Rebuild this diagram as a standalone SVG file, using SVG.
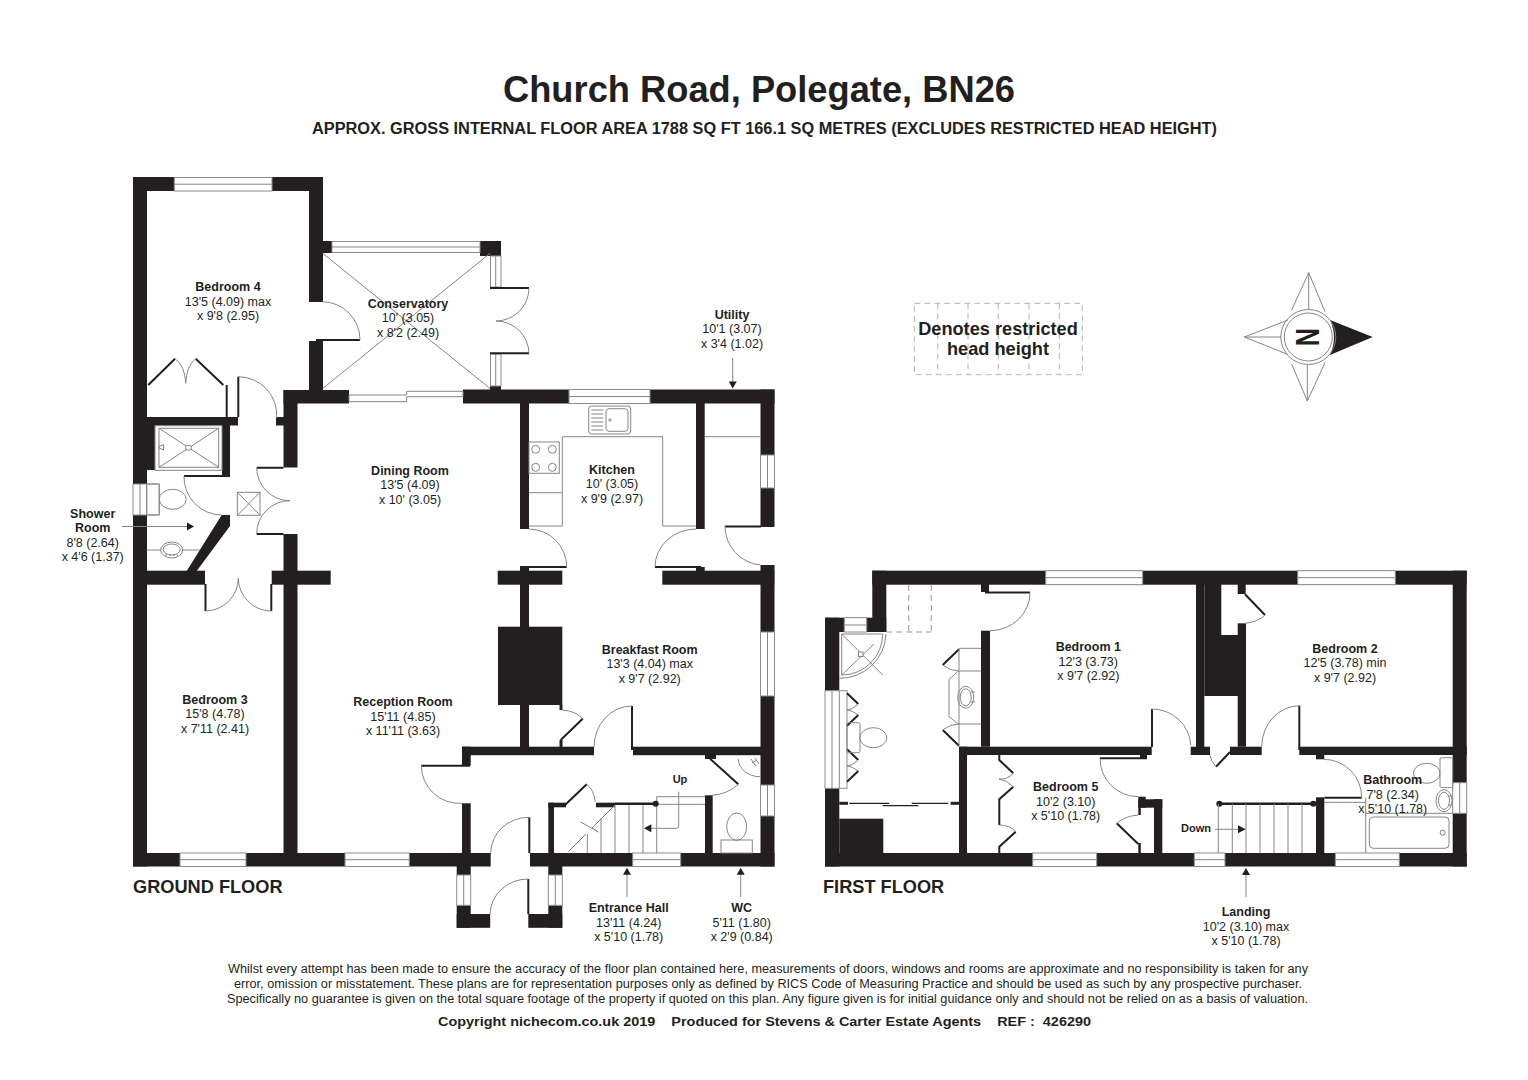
<svg xmlns="http://www.w3.org/2000/svg" width="1528" height="1080" viewBox="0 0 1528 1080">
<style>
text{font-family:"Liberation Sans",Arial,sans-serif;fill:#231f20;text-anchor:middle;font-size:12.5px}
.b{font-weight:bold}
.w{fill:#231f20;stroke:none}
.win{fill:#fff;stroke:#8c8c8c;stroke-width:1}
.t{fill:none;stroke:#858585;stroke-width:1}
.f{fill:#fff;stroke:#858585;stroke-width:1}
.k{fill:none;stroke:#231f20;stroke-width:2}
.d{fill:none;stroke:#b5b5b5;stroke-width:1;stroke-dasharray:6 4}
.a{fill:#231f20;stroke:none}
</style>
<rect width="1528" height="1080" fill="#fff"/>
<g id="heading">
<text x="759" y="102" class="b" style="font-size:36px" textLength="512" lengthAdjust="spacingAndGlyphs">Church Road, Polegate, BN26</text>
<text x="764.5" y="134" class="b" style="font-size:16px" textLength="905" lengthAdjust="spacingAndGlyphs">APPROX. GROSS INTERNAL FLOOR AREA 1788 SQ FT 166.1 SQ METRES (EXCLUDES RESTRICTED HEAD HEIGHT)</text>
</g>
<g id="ground-floor">
<g id="ground-walls">
<rect class="w" x="133" y="177" width="190" height="14"/>
<rect class="w" x="133" y="177" width="14" height="689.5"/>
<rect class="w" x="309" y="177" width="14" height="125"/>
<rect class="w" x="309" y="341" width="14" height="50"/>
<rect class="w" x="147" y="417" width="91" height="8.5"/>
<rect class="w" x="276" y="417" width="8" height="8.5"/>
<rect class="w" x="283.5" y="390" width="14" height="77.5"/>
<rect class="w" x="283.5" y="534" width="14" height="332"/>
<rect class="w" x="283.5" y="390" width="65.5" height="13.5"/>
<rect class="w" x="463" y="389.5" width="311.5" height="14"/>
<rect class="w" x="760.5" y="389.5" width="14" height="137.5"/>
<rect class="w" x="760.5" y="565" width="14" height="301.5"/>
<rect class="w" x="322" y="241" width="10" height="12"/>
<rect class="w" x="480" y="241" width="21" height="15"/>
<rect class="w" x="490" y="386" width="11" height="5"/>
<rect class="w" x="147" y="425" width="8" height="45"/>
<rect class="w" x="222" y="425" width="8" height="51.5"/>
<polygon class="w" points="221.7,515 230,515 230,526 196.7,571 186.7,571"/>
<rect class="w" x="147" y="570.7" width="58" height="14"/>
<rect class="w" x="271.7" y="570.7" width="59" height="14"/>
<rect class="w" x="497.7" y="570.7" width="64.6" height="14"/>
<rect class="w" x="662.3" y="570.7" width="112" height="14"/>
<rect class="w" x="696" y="567" width="8.7" height="4"/>
<rect class="w" x="520" y="403" width="9" height="126"/>
<rect class="w" x="696" y="403" width="8.7" height="126"/>
<rect class="w" x="520" y="566" width="9" height="181"/>
<rect class="w" x="498" y="626.7" width="64.3" height="78.3"/>
<rect class="w" x="559.5" y="705" width="3" height="5"/>
<rect class="w" x="559.5" y="740" width="3" height="7"/>
<rect class="w" x="462" y="746.7" width="132" height="8.5"/>
<rect class="w" x="633" y="746.7" width="128" height="8.5"/>
<rect class="w" x="462" y="746.7" width="8.7" height="19"/>
<rect class="w" x="462" y="803.3" width="8.7" height="63"/>
<rect class="w" x="133" y="853" width="357.7" height="13.5"/>
<rect class="w" x="530" y="853" width="244.5" height="13.5"/>
<rect class="w" x="456.7" y="866" width="14" height="9"/>
<rect class="w" x="456.7" y="905.3" width="14" height="22.5"/>
<rect class="w" x="456.7" y="914" width="33.5" height="13.8"/>
<rect class="w" x="548.3" y="866" width="14" height="9"/>
<rect class="w" x="548.3" y="905.3" width="14" height="22.5"/>
<rect class="w" x="528.3" y="914" width="34" height="13.8"/>
<rect class="w" x="548.3" y="802.7" width="5.7" height="50.5"/>
<rect class="w" x="548.3" y="802.7" width="17.7" height="4.6"/>
<rect class="w" x="596" y="802.7" width="19" height="4.6"/>
<rect class="w" x="705" y="795.3" width="7.7" height="58"/>
<rect class="w" x="705" y="755" width="11" height="4"/>
</g>
<g id="ground-windows">
<rect class="win" x="174.3" y="177.5" width="97.7" height="13.5"/><path class="t" d="M174.3 184.2H272"/>
<rect class="win" x="332" y="241.5" width="148" height="11"/><path class="t" d="M332 247H480"/>
<rect class="win" x="490.5" y="256" width="10.5" height="31"/><path class="t" d="M495.7 256V287"/>
<rect class="win" x="490.5" y="354" width="10.5" height="32"/><path class="t" d="M495.7 354V386"/>
<path class="f" d="M349 395H406.7V391.3H463V396.7H406.7V401.7H349Z"/>
<rect class="win" x="569" y="389.5" width="81" height="14"/><path class="t" d="M569 396.5H650"/>
<rect class="win" x="760.5" y="455" width="14" height="33"/><path class="t" d="M767.5 455V488"/>
<rect class="win" x="760.5" y="632" width="14" height="64"/><path class="t" d="M767.5 632V696"/>
<rect class="win" x="760.5" y="785" width="14" height="31"/><path class="t" d="M767.5 785V816"/>
<rect class="win" x="133" y="484" width="26.3" height="31"/><path class="t" d="M140 484V515M146.7 484V515"/>
<rect class="win" x="180" y="853" width="66" height="13.5"/><path class="t" d="M180 859.7H246"/>
<rect class="win" x="345" y="853" width="64.3" height="13.5"/><path class="t" d="M345 859.7H409.3"/>
<rect class="win" x="632.7" y="853" width="48" height="13.5"/><path class="t" d="M632.7 859.7H680.7"/>
<rect class="win" x="456.7" y="875" width="14" height="30.3"/><path class="t" d="M463.7 875V905.3"/>
<rect class="win" x="548.3" y="875" width="14" height="30.3"/><path class="t" d="M555.3 875V905.3"/>
</g>
<g id="ground-doors">
<path class="k" d="M316 340H360"/><path class="t" d="M322 301.7A38 38 0 0 1 360 340"/>
<path class="k" d="M490 288H529M490 353.3H529"/><path class="t" d="M529 288A33 33 0 0 1 496 321A33 33 0 0 1 529 353.3"/>
<path class="k" d="M238.3 376.7V417"/><path class="t" d="M238.3 376.7A38.5 38.5 0 0 1 276.7 418"/>
<path class="k" d="M226.7 385V417M148.3 385L175 358.7M195.7 358.7L223.3 385"/>
<path class="t" d="M175 358.7Q185 366 185.7 383.3Q186.5 366 195.7 358.7"/>
<path class="k" d="M184 476H230"/><path class="t" d="M184 476A38 38 0 0 0 221.7 515"/>
<path class="k" d="M256.7 467.7H283.5M256.7 534H283.5"/><path class="t" d="M256.7 467.7A33 33 0 0 0 290 500.7A33 33 0 0 0 256.7 534"/>
<path class="k" d="M205.5 584V611M271.3 584V611"/><path class="t" d="M205.5 611A33 33 0 0 0 238.3 578.3A33 33 0 0 0 271.3 611"/>
<path class="k" d="M525 567H566.7M655 567H701"/><path class="t" d="M529 529A38 38 0 0 1 566.7 567M696 529A41 38 0 0 0 655 567"/>
<path class="k" d="M725 526.5H761"/><path class="t" d="M725 526.5A39 39 0 0 0 760.5 565"/>
<path class="k" d="M560.7 740L582.7 718.7"/><path class="t" d="M562 710Q576 711 582.7 718.7"/>
<path class="k" d="M632 706V750"/><path class="t" d="M594 747A38 41 0 0 1 632 706"/>
<path class="k" d="M421.3 765.7H470"/><path class="t" d="M421.3 765.7A38 38 0 0 0 462 803.3"/>
<path class="k" d="M529.3 817.3V853"/><path class="t" d="M490.7 853A38 36 0 0 1 529.3 817.3"/>
<path class="k" d="M528.3 879V914"/><path class="t" d="M490 914A38 36 0 0 1 528.3 879"/>
<path class="k" d="M565 805L586.7 784.3"/><path class="t" d="M586.7 784.3Q594 790 595.3 801.7"/>
<path class="k" d="M710 758.7L738.3 784.3"/><path class="t" d="M738.3 784.3Q728 794 712 795.3"/>
</g>
<g id="ground-fittings">
<path class="t" d="M322.7 253.3L490 388.5M490 253.3L322.7 388.5"/>
<path class="t" d="M562.3 526V436.7H662.7V526M529 526H562.3M662.7 526H696M529 492.7H562.3M705 436.7H760.5"/>
<rect class="t" x="529" y="442" width="30.3" height="31.3"/>
<circle class="t" cx="535.7" cy="449.3" r="4"/><circle class="t" cx="552.3" cy="449.3" r="4"/><circle class="t" cx="535.7" cy="467.3" r="4"/><circle class="t" cx="552.3" cy="467.3" r="4"/>
<rect class="t" x="588.7" y="406" width="42" height="28" rx="3"/>
<rect class="t" x="606" y="408.7" width="22" height="22.6" rx="3"/>
<circle class="t" cx="610" cy="420" r="1.2"/>
<path class="t" d="M591.3 410H603.3M591.3 414H603.3M591.3 418H603.3M591.3 422H603.3M591.3 426H603.3M591.3 430H603.3"/>
<rect class="t" x="155" y="425.7" width="67" height="44.6"/>
<rect class="t" x="159" y="428.3" width="59.7" height="39"/>
<path class="t" d="M159 428.3L218.7 467.3M218.7 428.3L159 467.3"/>
<rect class="f" x="185.5" y="445.5" width="6" height="4.5" rx="2"/>
<path class="t" d="M159 446.5L163.5 444.5V450L159 448Z"/>
<rect class="t" x="146.7" y="484" width="12.5" height="31" rx="1.5"/>
<ellipse class="t" cx="172.7" cy="499.3" rx="13.5" ry="10"/>
<rect class="t" x="237.3" y="492.3" width="22.7" height="23"/>
<path class="t" d="M237.3 492.3L260 515.3M260 492.3L237.3 515.3"/>
<path class="t" d="M146.7 550H161M182.5 550H200"/>
<ellipse class="t" cx="171.7" cy="550" rx="11" ry="8"/>
<ellipse class="t" cx="171.7" cy="549.5" rx="8.5" ry="5.5"/>
<path class="t" d="M165 555H178" stroke-dasharray="2 2"/>
<path class="t" d="M568.3 851.7L586 834M592 828L615 805M580.7 822L598.5 832L592 828"/>
<path class="t" d="M587.3 834V853M601 818V853M615 805V853M629 805V853M643 805V853M656.7 796.7V853M656.7 796.7H705M656.7 804.3H705"/>
<path class="k" d="M615 803.7H655.7" style="stroke-width:2.5"/>
<circle class="a" cx="655.7" cy="803.7" r="3"/>
<path class="t" d="M678.7 791.7V826Q678.7 828.3 676.4 828.3H651"/>
<polygon class="a" points="644,828.3 651.3,824.3 651.3,832.3"/>
<rect class="t" x="721" y="840" width="31.3" height="13"/>
<ellipse class="t" cx="736.7" cy="826.7" rx="10" ry="13.7"/>
<path class="t" d="M738.3 759A21.7 18 0 0 0 760 776.7"/>
<path class="t" d="M751 759L756 766M755 758L759 764M752 763L757 760"/>
</g>
<g id="ground-arrows">
<path class="t" d="M732.7 358V382M627 874V897M740.7 874V897M121.7 526.5H187"/>
<polygon class="a" points="732.7,388.5 728.7,381.5 736.7,381.5"/>
<polygon class="a" points="627,867.7 623,874.7 631,874.7"/>
<polygon class="a" points="740.7,867.7 736.7,874.7 744.7,874.7"/>
<polygon class="a" points="194,526.5 187,522.5 187,530.5"/>
</g>
</g>
<g id="first-floor">
<g id="first-walls">
<rect class="w" x="872.3" y="570.7" width="594.4" height="14"/>
<rect class="w" x="872.3" y="570.7" width="14" height="61.3"/>
<rect class="w" x="825" y="617.7" width="61.3" height="14.3"/>
<rect class="w" x="825" y="617.7" width="14.3" height="73"/>
<rect class="w" x="825" y="788.3" width="14.3" height="78.2"/>
<rect class="w" x="825" y="853" width="641.7" height="13.5"/>
<rect class="w" x="839.3" y="818.7" width="44" height="34.3"/>
<rect class="w" x="981" y="584" width="8" height="8"/>
<rect class="w" x="981" y="630.7" width="9" height="116"/>
<rect class="w" x="959" y="746.7" width="192.7" height="8.3"/>
<rect class="w" x="959" y="746.7" width="8" height="106.3"/>
<rect class="w" x="1140" y="755" width="7" height="3.5"/>
<rect class="w" x="1196" y="584" width="8.3" height="163"/>
<rect class="w" x="1204.3" y="584" width="17" height="112"/>
<rect class="w" x="1221" y="635" width="25" height="61"/>
<rect class="w" x="1237.7" y="584" width="8" height="10"/>
<rect class="w" x="1237.7" y="623.3" width="8.3" height="123.4"/>
<rect class="w" x="1190.7" y="746.7" width="19.3" height="8.3"/>
<rect class="w" x="1230" y="746.7" width="31.7" height="8.3"/>
<rect class="w" x="1299.3" y="746.7" width="167.4" height="8.3"/>
<rect class="w" x="1452.7" y="570.7" width="14" height="295.8"/>
<rect class="w" x="1138.3" y="796.7" width="7.4" height="11"/>
<rect class="w" x="1138.3" y="799.3" width="24" height="8.4"/>
<rect class="w" x="1154" y="799.3" width="8.3" height="54"/>
<rect class="w" x="1138.3" y="843" width="2.5" height="10"/>
<rect class="w" x="1138.3" y="807" width="2.5" height="8"/>
<rect class="w" x="1316" y="755" width="8.3" height="4.3"/>
<rect class="w" x="1316" y="797.3" width="8.3" height="56"/>
</g>
<g id="first-windows">
<rect class="win" x="844.3" y="617.7" width="22.4" height="14.3"/><path class="t" d="M844.3 625H866.7"/>
<rect class="win" x="825" y="690.7" width="22" height="97.6"/><path class="t" d="M832 690.7V788.3M839.3 690.7V788.3"/>
<rect class="win" x="1045.7" y="570.7" width="97" height="14"/><path class="t" d="M1045.7 577.7H1142.7"/>
<rect class="win" x="1297.7" y="570.7" width="97.6" height="14"/><path class="t" d="M1297.7 577.7H1395.3"/>
<rect class="win" x="1032.7" y="853" width="64" height="13.5"/><path class="t" d="M1032.7 859.7H1096.7"/>
<rect class="win" x="1194.3" y="853" width="30.7" height="13.5"/><path class="t" d="M1194.3 859.7H1225"/>
<rect class="win" x="1335.3" y="853" width="64" height="13.5"/><path class="t" d="M1335.3 859.7H1399.3"/>
<rect class="win" x="1452.7" y="782.7" width="14" height="30.6"/><path class="t" d="M1459.7 782.7V813.3"/>
</g>
<g id="first-doors">
<path class="k" d="M985 592.5H1030"/><path class="t" d="M1030 592.5A40 38 0 0 1 990 630.7"/>
<path class="k" d="M1152 709V747"/><path class="t" d="M1152 709A38.7 38 0 0 1 1190.7 745"/>
<path class="k" d="M1100 758.3H1147"/><path class="t" d="M1100 758.3A38.3 38.3 0 0 0 1138.3 796.7"/>
<path class="k" d="M1230 752L1216 766.7"/><path class="t" d="M1216 766.7Q1211 762 1210 755"/>
<path class="k" d="M1245 594.3L1265 615"/><path class="t" d="M1265 615Q1258 622 1245 623.3"/>
<path class="k" d="M1299.3 705.7V750"/><path class="t" d="M1261.7 746.7A38 41 0 0 1 1299.3 705.7"/>
<path class="k" d="M1324.3 797.7H1361.7"/><path class="t" d="M1324 759.3A38 38 0 0 1 1361.7 797.7"/>
<path class="k" d="M1138.3 844L1116.7 823.3"/><path class="t" d="M1116.7 823.3Q1125 816 1138.3 815"/>
<path class="k" d="M999.3 755V760L1013.3 773.3"/><path class="k" d="M1013.3 786.7L999.3 799.3V825"/><path class="k" d="M1015.7 831.7L999.3 846.7V853"/>
<path class="t" d="M1013.3 773.3Q1007 780 999 779Q1007 780 1013.3 786.7M999.3 825Q1010 825 1015.7 831.7"/>
<path class="k" d="M847 693.3L858.3 704M858.3 715L847 725.7M847 749.3L858.3 760M858.3 771L847 781.7"/>
<path class="t" d="M858.3 704Q852 710 847 710Q852 710 858.3 715M858.3 760Q852 766 847 766Q852 766 858.3 771"/>
<path class="k" d="M959 649.3L942.7 665M959 745.7L942.7 730"/>
<path class="t" d="M942.7 665Q950 671 959 671M942.7 730Q950 724 959 724"/>
<path class="k" d="M839.3 803.3H848" style="stroke-width:3"/><path class="k" d="M950.7 803.3H959" style="stroke-width:3"/>
<path class="k" d="M849.3 803.3H889.3M882.7 805.7H918.3M911.7 803.3H948.3" style="stroke-width:1.3"/>
</g>
<g id="first-fittings">
<path class="d" style="stroke:#999" d="M908.7 585V632M931.3 585V632M886.3 632H931.3"/>
<path class="t" d="M886 634A46 46 0 0 1 839.3 678.3"/>
<path class="t" d="M841.7 634H882.7A41 41 0 0 1 841.7 675Z"/>
<path class="t" d="M841.7 634L882.7 675M841.7 675L874 644"/>
<rect class="f" x="858.5" y="652" width="4.5" height="4.5"/>
<rect class="t" x="847" y="722.7" width="13" height="30" rx="1.5"/>
<ellipse class="t" cx="873.3" cy="737.7" rx="13.5" ry="10"/>
<path class="t" d="M959 648.3H981M959 648.3V746M959 671H981M959 724H981M958.3 671L949 679.3V716.7L958.3 724"/>
<ellipse class="t" cx="965.7" cy="697.3" rx="8" ry="11"/>
<ellipse class="t" cx="965.7" cy="697.3" rx="5.5" ry="8.5"/>
<path class="t" d="M971 692H975M971 702H975"/>
<path class="k" d="M1219.3 803.7H1313.3" style="stroke-width:2.5"/>
<circle class="a" cx="1219.3" cy="803.7" r="3"/><circle class="a" cx="1313.3" cy="803.7" r="3"/>
<path class="t" d="M1218.3 804V853M1232.3 804V853M1246 804V853M1260 804V853M1274 804V853M1288 804V853M1302 804V853"/>
<path class="t" d="M1215 829.3H1238"/>
<polygon class="a" points="1245.7,829.3 1238,825.3 1238,833.3"/>
<path class="t" d="M1365.7 797.7V853M1324 802.3H1365.7M1365.7 813.3H1452.7"/>
<rect class="t" x="1369.3" y="817" width="79.7" height="31.3" rx="4"/>
<circle class="t" cx="1442.7" cy="832.7" r="2.5"/>
<rect class="t" x="1440" y="757.7" width="12.7" height="30" rx="1.5"/>
<ellipse class="t" cx="1426.7" cy="773.3" rx="13.3" ry="10"/>
<ellipse class="t" cx="1444" cy="800.7" rx="8" ry="11"/>
<ellipse class="t" cx="1444" cy="800.7" rx="5.5" ry="8.5"/>
<path class="t" d="M1448 796H1452M1448 805H1452"/>
</g>
<g id="first-arrows">
<path class="t" d="M1246 875V897"/>
<polygon class="a" points="1246,868 1242,875 1250,875"/>
</g>
</g>
<g id="legend">
<rect class="d" x="914.3" y="303.3" width="168" height="71.4"/>
<path class="d" d="M937.7 303.3V374.7M968 303.3V374.7M998.3 303.3V374.7M1029 303.3V374.7M1059.3 303.3V374.7"/>
<text x="998" y="335" class="b" style="font-size:18.2px">Denotes restricted</text>
<text x="998" y="355" class="b" style="font-size:18.2px">head height</text>
</g>
<g id="compass">
<path class="t" d="M1291.7 310L1308.7 272.7L1325 311.7M1308.7 272.7V309M1288 320L1244.3 337L1288 354.5M1244.3 337H1281M1291.7 364L1307.3 401L1325 362.5M1307.3 365V401"/>
<path class="a" d="M1330 320L1372.7 337L1330 355Q1338 337 1330 320Z"/>
<circle cx="1308.3" cy="337" r="27.5" fill="none" stroke="#858585"/>
<circle cx="1308.3" cy="337" r="24" fill="none" stroke="#858585"/>
<text transform="translate(1296,337) rotate(90) scale(.76,1)" class="b" style="font-size:33px">N</text>
</g>
<g id="labels">
<text x="133" y="893" class="b" style="font-size:18.2px;text-anchor:start">GROUND FLOOR</text>
<text x="823" y="892.5" class="b" style="font-size:18.2px;text-anchor:start">FIRST FLOOR</text>
<text x="228" y="291" class="b">Bedroom 4</text><text x="228" y="305.5">13'5 (4.09) max</text><text x="228" y="320">x 9'8 (2.95)</text>
<text x="408" y="307.5" class="b">Conservatory</text><text x="408" y="322">10' (3.05)</text><text x="408" y="336.5">x 8'2 (2.49)</text>
<text x="410" y="474.5" class="b">Dining Room</text><text x="410" y="489">13'5 (4.09)</text><text x="410" y="503.5">x 10' (3.05)</text>
<text x="612" y="473.5" class="b">Kitchen</text><text x="612" y="488">10' (3.05)</text><text x="612" y="502.5">x 9'9 (2.97)</text>
<text x="732" y="318.5" class="b">Utility</text><text x="732" y="333">10'1 (3.07)</text><text x="732" y="347.5">x 3'4 (1.02)</text>
<text x="403" y="706" class="b">Reception Room</text><text x="403" y="720.5">15'11 (4.85)</text><text x="403" y="735">x 11'11 (3.63)</text>
<text x="649.7" y="653.5" class="b">Breakfast Room</text><text x="649.7" y="668">13'3 (4.04) max</text><text x="649.7" y="682.5">x 9'7 (2.92)</text>
<text x="215" y="703.5" class="b">Bedroom 3</text><text x="215" y="718">15'8 (4.78)</text><text x="215" y="732.5">x 7'11 (2.41)</text>
<text x="92.7" y="517.5" class="b">Shower</text><text x="92.7" y="532" class="b">Room</text><text x="92.7" y="546.5">8'8 (2.64)</text><text x="92.7" y="561">x 4'6 (1.37)</text>
<text x="628.7" y="912" class="b">Entrance Hall</text><text x="628.7" y="926.5">13'11 (4.24)</text><text x="628.7" y="941">x 5'10 (1.78)</text>
<text x="741.7" y="912" class="b">WC</text><text x="741.7" y="926.5">5'11 (1.80)</text><text x="741.7" y="941">x 2'9 (0.84)</text>
<text x="680" y="783" class="b" style="font-size:11px">Up</text>
<text x="1196" y="832" class="b" style="font-size:11px">Down</text>
<text x="1088.3" y="651" class="b">Bedroom 1</text><text x="1088.3" y="665.5">12'3 (3.73)</text><text x="1088.3" y="680">x 9'7 (2.92)</text>
<text x="1345" y="652.5" class="b">Bedroom 2</text><text x="1345" y="667">12'5 (3.78) min</text><text x="1345" y="681.5">x 9'7 (2.92)</text>
<text x="1065.7" y="791" class="b">Bedroom 5</text><text x="1065.7" y="805.5">10'2 (3.10)</text><text x="1065.7" y="820">x 5'10 (1.78)</text>
<text x="1392.7" y="784" class="b">Bathroom</text><text x="1392.7" y="798.5">7'8 (2.34)</text><text x="1392.7" y="813">x 5'10 (1.78)</text>
<text x="1246" y="916" class="b">Landing</text><text x="1246" y="930.5">10'2 (3.10) max</text><text x="1246" y="945">x 5'10 (1.78)</text>
</g>
<g id="footer">
<text x="768" y="973" textLength="1080" lengthAdjust="spacingAndGlyphs">Whilst every attempt has been made to ensure the accuracy of the floor plan contained here, measurements of doors, windows and rooms are approximate and no responsibility is taken for any</text>
<text x="768" y="988" textLength="1068" lengthAdjust="spacingAndGlyphs">error, omission or misstatement. These plans are for representation purposes only as defined by RICS Code of Measuring Practice and should be used as such by any prospective purchaser.</text>
<text x="767.5" y="1002.5" textLength="1081" lengthAdjust="spacingAndGlyphs">Specifically no guarantee is given on the total square footage of the property if quoted on this plan. Any figure given is for initial guidance only and should not be relied on as a basis of valuation.</text>
<text x="764.5" y="1026" class="b" style="white-space:pre" xml:space="preserve" textLength="653" lengthAdjust="spacingAndGlyphs">Copyright nichecom.co.uk 2019    Produced for Stevens &amp; Carter Estate Agents    REF :  426290</text>
</g>
</svg>
